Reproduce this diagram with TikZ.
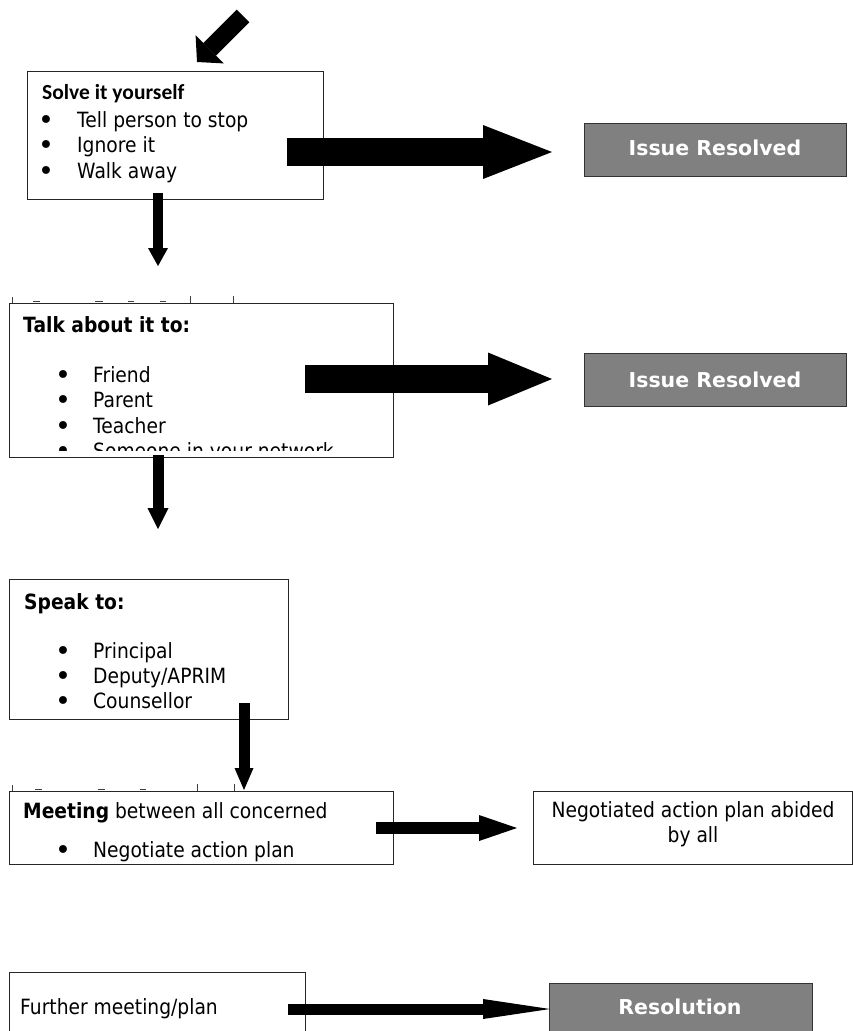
\documentclass[tikz,border=0pt]{standalone}
\usepackage{fontspec}
\setmainfont{DejaVu Sans}[FakeStretch=0.89]
\newfontfamily\wide{DejaVu Sans}
\newfontfamily\calib{Carlito}
\usetikzlibrary{arrows.meta}
\tikzset{
  box/.style={draw=black!85, line width=1.1pt, inner sep=0pt, anchor=north west},
  graybox/.style={draw=black!80, fill=black!50, line width=1.4pt, inner sep=0pt, anchor=north west},
  txt/.style={anchor=base west, inner sep=0pt, font=\fontsize{21}{25}\selectfont},
  ctxt/.style={anchor=base, inner sep=0pt, font=\fontsize{21}{25}\selectfont},
  ttl/.style={anchor=base west, inner sep=0pt, font=\bfseries\fontsize{21}{25}\selectfont},
  bul/.style={anchor=base, inner sep=0pt, yshift=-2pt, font=\wide\fontsize{27}{27}\selectfont},
  wtxt/.style={anchor=base, inner sep=0pt, text=white, font=\wide\bfseries\fontsize{20.5}{24}\selectfont},
  fat/.style n args={3}{line width=#1, -{Triangle[length=#3, width=#2, line width=0pt]}},
  frag/.style={draw=black!75, line width=0.9pt}
}
\begin{document}
\begin{tikzpicture}[x=1pt, y=-1pt]
\clip (0,0) rectangle (853,1031);
\fill[white] (0,0) rectangle (853,1031);

% boxes
\node[box, minimum width=296pt, minimum height=128pt] (solve) at (27,71) {};
\node[box, minimum width=384pt, minimum height=154pt] (talk) at (9,303) {};
\node[box, minimum width=279pt, minimum height=140pt] (speak) at (9,579) {};
\node[box, minimum width=384pt, minimum height=73pt] (meet) at (9,791) {};
\node[box, minimum width=319pt, minimum height=73pt] (neg) at (533,791) {};
\node[box, minimum width=296pt, minimum height=80pt] (further) at (9,972) {};
\node[graybox, minimum width=262pt, minimum height=53pt] (ir1) at (584,123) {};
\node[graybox, minimum width=262pt, minimum height=53pt] (ir2) at (584,353) {};
\node[graybox, minimum width=263pt, minimum height=70pt] (res) at (549,983) {};

% box 1 text
\node[anchor=base west, inner sep=0pt, font=\calib\bfseries\fontsize{21.5}{25}\selectfont] (t1) at (42,99) {Solve it yourself};
\node[bul] (b11) at (46,127) {•}; \node[txt] (i11) at (77,127) {Tell person to stop};
\node[bul] (b12) at (46,152) {•}; \node[txt] (i12) at (77,152) {Ignore it};
\node[bul] (b13) at (46,178) {•}; \node[txt] (i13) at (77,178) {Walk away};

% box 2 text
\node[ttl] (t2) at (23,332) {Talk about it to:};
\node[bul] (b21) at (63,382) {•}; \node[txt] (i21) at (93,382) {Friend};
\node[bul] (b22) at (63,407) {•}; \node[txt] (i22) at (93,407) {Parent};
\node[bul] (b23) at (63,433) {•}; \node[txt] (i23) at (93,433) {Teacher};
\begin{scope}
\clip (10,304) rectangle (392,450);
\node[bul] (b24) at (63,458) {•}; \node[txt] (i24) at (93,458) {Someone in your network};
\end{scope}
% clipped fragments above box 2
\draw[frag] (12,297) -- (12,303);
\draw[frag] (190,296) -- (190,303);
\draw[frag] (233,296) -- (233,303);
\draw[frag] (33,301) -- (40,301) (95,301) -- (103,301) (128,301) -- (134,301) (160,301) -- (166,301);

% box 3 text
\node[ttl] (t3) at (24,609) {Speak to:};
\node[bul] (b31) at (63,658) {•}; \node[txt] (i31) at (93,658) {Principal};
\node[bul] (b32) at (63,683) {•}; \node[txt] (i32) at (93,683) {Deputy/APRIM};
\node[bul] (b33) at (63,708) {•}; \node[txt] (i33) at (93,708) {Counsellor};

% box 4 text
\node[txt] (t4) at (23,818) {\textbf{Meeting} between all concerned};
\node[bul] (b41) at (63,857) {•}; \node[txt] (i41) at (93,857) {Negotiate action plan};
\draw[frag] (12,785) -- (12,791);
\draw[frag] (197,784) -- (197,791);
\draw[frag] (234,784) -- (234,791);
\draw[frag] (35,789) -- (42,789) (98,789) -- (105,789) (140,789) -- (146,789);

% negotiated
\node[ctxt] (n1) at (693,817) {Negotiated action plan abided};
\node[ctxt] (n2) at (693,842) {by all};

% further
\node[txt] (f1) at (20,1014) {Further meeting/plan};

% gray labels
\node[wtxt] (l1) at (715,155) {Issue Resolved};
\node[wtxt] (l2) at (715,387) {Issue Resolved};
\node[wtxt] (l3) at (680,1014) {Resolution};

% arrow coordinates
\coordinate (a0s) at (243,16);  \coordinate (a0e) at (197,62);
\coordinate (a1s) at (287,152); \coordinate (a1e) at (552,152);
\coordinate (d1s) at (158,193); \coordinate (d1e) at (158,266);
\coordinate (a2s) at (305,379); \coordinate (a2e) at (552,379);
\coordinate (d2s) at (158,455); \coordinate (d2e) at (158,529);
\coordinate (d3s) at (244,703); \coordinate (d3e) at (244,790);
\coordinate (a4s) at (376,828); \coordinate (a4e) at (517,828);
\coordinate (a5s) at (288,1009); \coordinate (a5e) at (550,1009);

% arrows
\draw[fat={18pt}{40pt}{18pt}] (a0s) -- (a0e);
\draw[fat={28pt}{54pt}{69pt}] (a1s) -- (a1e);
\draw[fat={10pt}{20pt}{18pt}] (d1s) -- (d1e);
\draw[fat={28pt}{53pt}{64pt}] (a2s) -- (a2e);
\draw[fat={11pt}{21pt}{21pt}] (d2s) -- (d2e);
\draw[fat={11pt}{19pt}{22pt}] (d3s) -- (d3e);
\draw[fat={12pt}{26pt}{38pt}] (a4s) -- (a4e);
\draw[fat={11pt}{20pt}{67pt}] (a5s) -- (a5e);
\end{tikzpicture}
\end{document}
